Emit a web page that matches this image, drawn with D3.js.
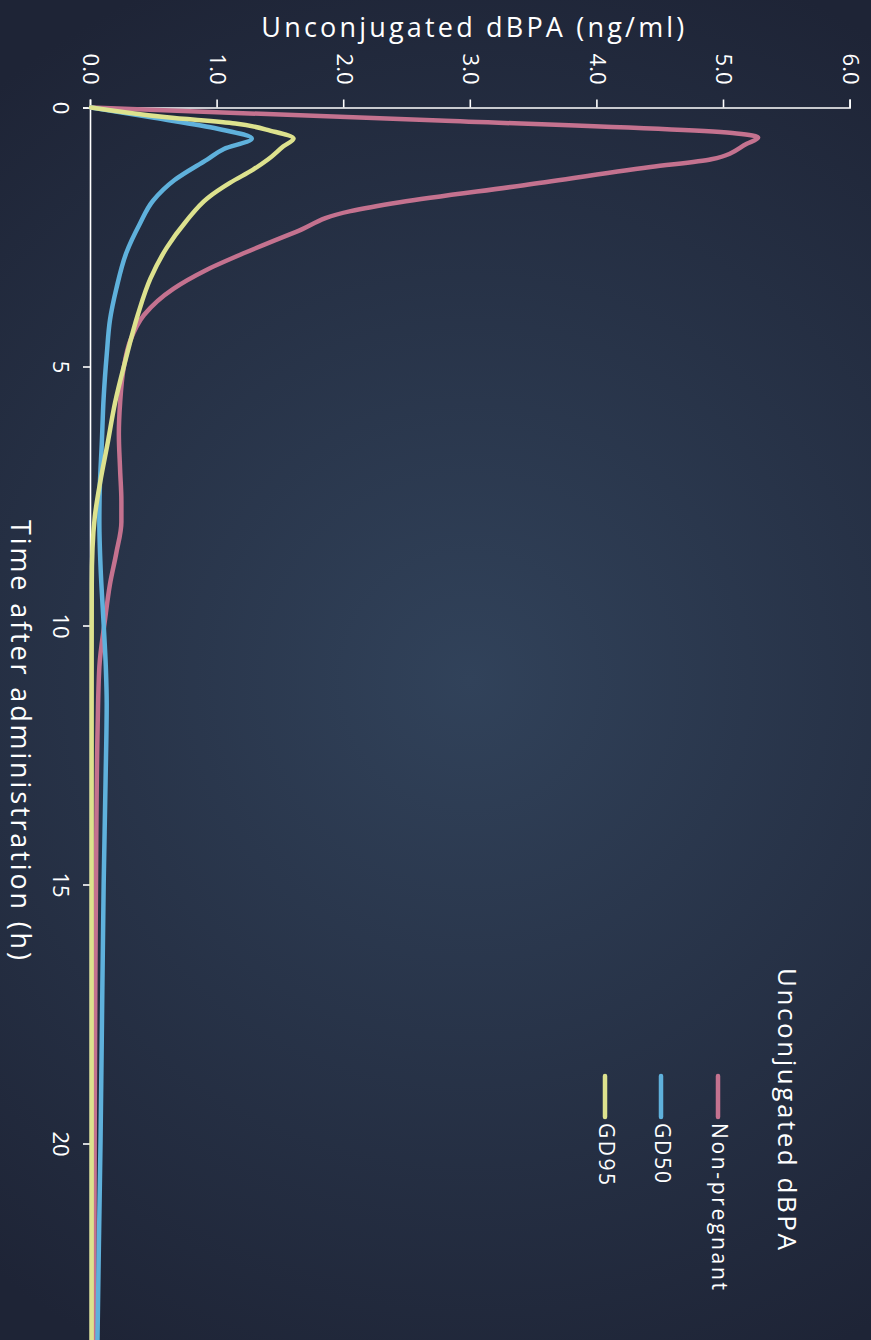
<!DOCTYPE html>
<html>
<head>
<meta charset="utf-8">
<script src="https://cdn.jsdelivr.net/npm/d3@7"></script>
<style>
  html, body { margin: 0; padding: 0; background: #222a3e; }
  svg { display: block; }
  text { font-family: "Open Sans", "Lato", sans-serif; font-weight: 400; fill: #ffffff; }
</style>
</head>
<body>
<svg id="chart" width="871" height="1340"></svg>
<script>
// Unconjugated dBPA plasma concentration after administration
const seriesNames = ["Non-pregnant", "GD50", "GD95"];
const seriesColors = ["#c4728f", "#5fb1dc", "#dde28e"];

const timeNonPregnant = [0, 0.25, 0.5, 0.58, 0.7, 1.0, 1.15, 1.5, 1.83, 2.0, 2.4, 2.8, 3.15, 3.5, 4.0, 4.5, 5.0, 5.7, 6.3, 7.0, 7.6, 8.0, 8.6, 9.2, 9.9, 10.8, 12, 14, 17, 20, 24];
const valueNonPregnant = [0, 2.75, 5.1, 5.27, 5.18, 4.9, 4.42, 3.42, 2.44, 2.05, 1.62, 1.22, 0.9, 0.65, 0.42, 0.31, 0.26, 0.23, 0.22, 0.23, 0.24, 0.24, 0.2, 0.15, 0.11, 0.066, 0.052, 0.042, 0.034, 0.029, 0.025];

const timeGD50 = [0, 0.2, 0.41, 0.6, 0.8, 1.0, 1.4, 1.8, 2.25, 2.8, 3.5, 4.1, 4.75, 5.6, 6.5, 7.3, 8.0, 8.9, 9.85, 10.8, 11.5, 13, 15, 18, 20, 22, 24];
const valueGD50 = [0, 0.5, 1.0, 1.27, 1.05, 0.92, 0.66, 0.49, 0.385, 0.28, 0.2, 0.15, 0.125, 0.1, 0.085, 0.07, 0.066, 0.076, 0.097, 0.117, 0.124, 0.115, 0.1, 0.085, 0.075, 0.062, 0.05];

const timeGD95 = [0, 0.19, 0.31, 0.45, 0.6, 0.75, 1.0, 1.2, 1.45, 1.75, 2.2, 2.7, 3.3, 4.0, 4.9, 5.7, 6.5, 7.2, 7.9, 8.5, 9.2, 12, 24];
const valueGD95 = [0, 0.6, 1.14, 1.42, 1.6, 1.52, 1.4, 1.28, 1.1, 0.92, 0.75, 0.6, 0.47, 0.37, 0.27, 0.19, 0.13, 0.075, 0.03, 0.012, 0.006, 0.005, 0.005];

const timeTicks = [0, 5, 10, 15, 20];
const valueTicks = [0, 1, 2, 3, 4, 5, 6];

const series = [
  { name: seriesNames[0], color: seriesColors[0], t: timeNonPregnant, v: valueNonPregnant },
  { name: seriesNames[1], color: seriesColors[1], t: timeGD50, v: valueGD50 },
  { name: seriesNames[2], color: seriesColors[2], t: timeGD95, v: valueGD95 }
];

const W = 871, H = 1340;
const svg = d3.select("#chart");

// soft radial backdrop
const defs = svg.append("defs");
const grad = defs.append("radialGradient")
  .attr("id", "bg").attr("gradientUnits", "userSpaceOnUse")
  .attr("cx", 470).attr("cy", 680).attr("r", 760);
grad.append("stop").attr("offset", "0%").attr("stop-color", "#31425a");
grad.append("stop").attr("offset", "100%").attr("stop-color", "#1e2436");
svg.append("rect").attr("width", W).attr("height", H).attr("fill", "url(#bg)");

// the chart is laid out landscape (time across) and turned a quarter clockwise
const g = svg.append("g").attr("transform", `translate(${W},0) rotate(90)`);

const x = d3.scaleLinear().domain([0, 24]).range([107.5, 107.5 + 24 * 51.8]);
const y = d3.scaleLinear().domain([0, 6]).range([780, 20.4]);

// value axis
const yAxis = g.append("g").attr("transform", `translate(${x(0)},0)`)
  .call(d3.axisLeft(y).tickValues(valueTicks).tickFormat(d3.format(".1f")).tickSize(8).tickPadding(15));
// time axis
const xAxis = g.append("g").attr("transform", `translate(0,${y(0)})`)
  .call(d3.axisBottom(x).tickValues(timeTicks).tickFormat(d3.format("d")).tickSize(8).tickPadding(14));

[yAxis, xAxis].forEach(a => {
  a.selectAll(".domain, line").attr("stroke", "#ffffff").attr("stroke-width", 1.6);
  a.selectAll("text").attr("fill", "#ffffff").style("font-size", "22px").attr("font-family", null);
});

// axis titles
g.append("text")
  .attr("transform", `translate(${30},${(y(0) + y(6)) / 2 - 2}) rotate(-90)`)
  .attr("text-anchor", "middle").attr("dominant-baseline", "middle")
  .attr("textLength", 423).attr("lengthAdjust", "spacing")
  .style("font-size", "27px")
  .text("Unconjugated dBPA (ng/ml)");

g.append("text")
  .attr("x", 740).attr("y", 853)
  .attr("text-anchor", "middle").attr("dominant-baseline", "middle")
  .attr("textLength", 440).attr("lengthAdjust", "spacing")
  .style("font-size", "27px")
  .text("Time after administration (h)");

// curves
const line = d3.line().curve(d3.curveMonotoneX);
series.forEach(s => {
  const pts = s.t.map((t, i) => [x(t), y(s.v[i])]);
  g.append("path")
    .attr("d", line(pts))
    .attr("fill", "none")
    .attr("stroke", s.color)
    .attr("stroke-width", 4.5)
    .attr("stroke-linecap", "round")
    .attr("stroke-linejoin", "round");
});

// legend
const legend = g.append("g");
legend.append("text")
  .attr("x", 968).attr("y", 86)
  .attr("dominant-baseline", "middle")
  .attr("textLength", 282).attr("lengthAdjust", "spacing")
  .style("font-size", "26px")
  .text("Unconjugated dBPA");
const legendRows = [153, 210, 266];
const legendLengths = [167, 60, 62];
series.forEach((s, i) => {
  legend.append("line")
    .attr("x1", 1076).attr("x2", 1117)
    .attr("y1", legendRows[i]).attr("y2", legendRows[i])
    .attr("stroke", s.color).attr("stroke-width", 4.5).attr("stroke-linecap", "round");
  legend.append("text")
    .attr("x", 1123).attr("y", legendRows[i])
    .attr("dominant-baseline", "middle")
    .attr("textLength", legendLengths[i]).attr("lengthAdjust", "spacing")
    .style("font-size", "21px")
    .text(s.name);
});
</script>
</body>
</html>
